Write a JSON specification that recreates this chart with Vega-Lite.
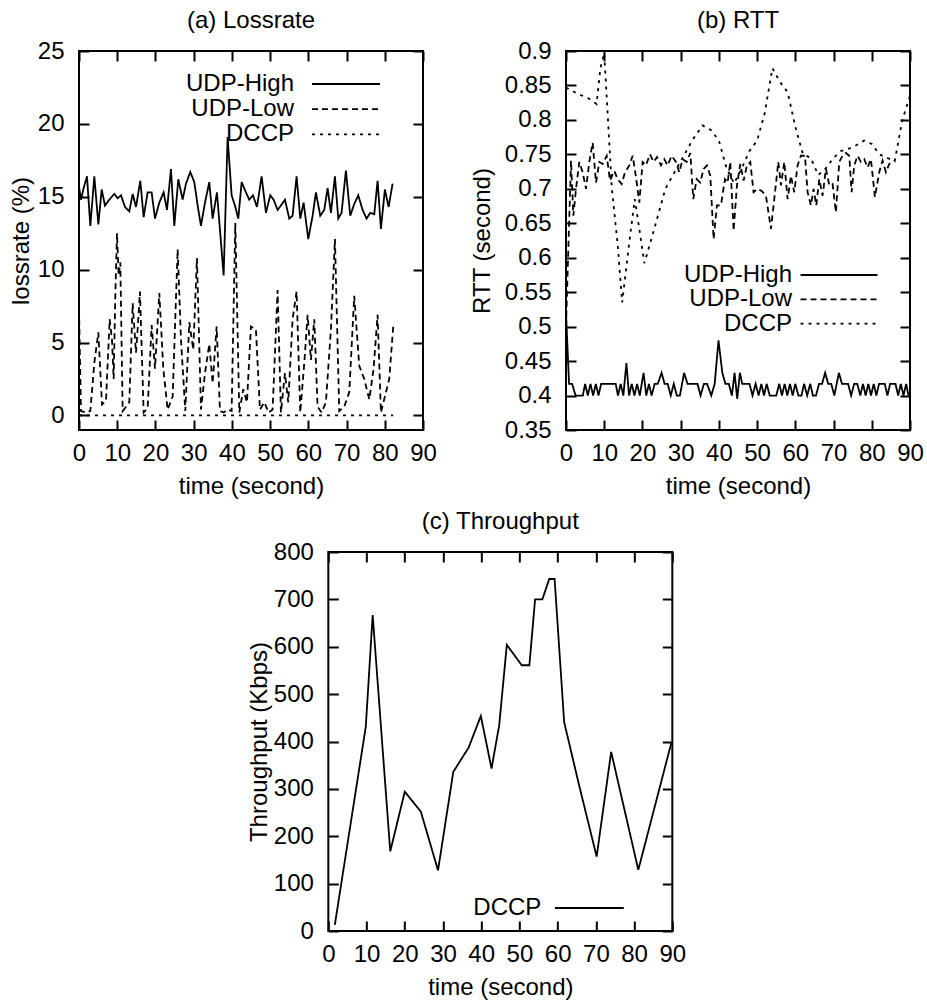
{
  "$schema": "https://vega.github.io/schema/vega-lite/v6.json",
  "background": "white",
  "padding": {"left": 8, "top": 8, "right": 5, "bottom": 5},
  "config": {
    "font": "Liberation Sans",
    "view": {"stroke": "black", "strokeWidth": 2},
    "axis": {
      "domain": false, "grid": false, "ticks": true, "tickSize": -10, "tickColor": "black", "tickWidth": 2,
      "labelFontSize": 24, "labelColor": "black", "labelFlush": false, "labelOverlap": false,
      "titleFontSize": 24, "titleFontWeight": "normal", "titleColor": "black"
    },
    "axisX": {"labelPadding": 21, "titlePadding": 9},
    "axisY": {"labelPadding": 25, "titlePadding": 4},
    "title": {"fontSize": 24, "fontWeight": "normal", "color": "black", "offset": 6, "frame": "group"},
    "legend": {
      "title": null, "orient": "none", "symbolType": "M-5,0H5", "symbolStrokeWidth": 1.8, "symbolStrokeColor": "black",
      "labelAlign": "right", "labelFontSize": 24, "labelColor": "black", "padding": 0, "labelLimit": 300
    }
  },
  "datasets": {
    "loss": [
      {"time":0,"series":"UDP-High","value":15.7},{"time":0.52,"series":"UDP-High","value":14.8},{"time":1.22,"series":"UDP-High","value":15.6},{"time":2.09,"series":"UDP-High","value":16.4},{"time":2.96,"series":"UDP-High","value":13.0},{"time":4.01,"series":"UDP-High","value":16.4},{"time":5.06,"series":"UDP-High","value":13.1},{"time":5.93,"series":"UDP-High","value":15.5},{"time":6.8,"series":"UDP-High","value":14.4},{"time":7.93,"series":"UDP-High","value":14.8},{"time":9.24,"series":"UDP-High","value":15.2},{"time":10.11,"series":"UDP-High","value":14.9},{"time":10.99,"series":"UDP-High","value":15.1},{"time":12.03,"series":"UDP-High","value":14.3},{"time":13.16,"series":"UDP-High","value":14.0},{"time":14.04,"series":"UDP-High","value":15.2},{"time":14.91,"series":"UDP-High","value":14.3},{"time":16.04,"series":"UDP-High","value":16.1},{"time":16.91,"series":"UDP-High","value":13.6},{"time":17.96,"series":"UDP-High","value":15.3},{"time":19.01,"series":"UDP-High","value":15.3},{"time":19.88,"series":"UDP-High","value":13.5},{"time":21.01,"series":"UDP-High","value":14.6},{"time":22.14,"series":"UDP-High","value":15.3},{"time":23.02,"series":"UDP-High","value":14.1},{"time":24.06,"series":"UDP-High","value":16.9},{"time":24.93,"series":"UDP-High","value":13.0},{"time":25.98,"series":"UDP-High","value":16.2},{"time":27.11,"series":"UDP-High","value":14.8},{"time":27.99,"series":"UDP-High","value":15.9},{"time":29.12,"series":"UDP-High","value":16.7},{"time":30.17,"series":"UDP-High","value":16.0},{"time":31.04,"series":"UDP-High","value":14.4},{"time":31.91,"series":"UDP-High","value":13.0},{"time":32.96,"series":"UDP-High","value":14.6},{"time":34.09,"series":"UDP-High","value":16.0},{"time":34.96,"series":"UDP-High","value":13.5},{"time":36.09,"series":"UDP-High","value":15.3},{"time":37.84,"series":"UDP-High","value":9.6},{"time":38.88,"series":"UDP-High","value":19.1},{"time":39.93,"series":"UDP-High","value":15.1},{"time":40.8,"series":"UDP-High","value":14.4},{"time":41.67,"series":"UDP-High","value":13.5},{"time":42.55,"series":"UDP-High","value":16.0},{"time":43.68,"series":"UDP-High","value":15.3},{"time":44.55,"series":"UDP-High","value":14.8},{"time":45.51,"series":"UDP-High","value":15.1},{"time":46.56,"series":"UDP-High","value":14.3},{"time":47.78,"series":"UDP-High","value":16.4},{"time":48.91,"series":"UDP-High","value":13.9},{"time":50.04,"series":"UDP-High","value":15.1},{"time":50.92,"series":"UDP-High","value":14.8},{"time":51.96,"series":"UDP-High","value":14.1},{"time":52.83,"series":"UDP-High","value":14.4},{"time":53.88,"series":"UDP-High","value":14.8},{"time":55.01,"series":"UDP-High","value":13.5},{"time":55.88,"series":"UDP-High","value":13.7},{"time":56.93,"series":"UDP-High","value":16.4},{"time":57.89,"series":"UDP-High","value":13.5},{"time":58.76,"series":"UDP-High","value":14.6},{"time":59.98,"series":"UDP-High","value":12.1},{"time":61.12,"series":"UDP-High","value":13.7},{"time":61.99,"series":"UDP-High","value":15.3},{"time":63.12,"series":"UDP-High","value":13.7},{"time":64.17,"series":"UDP-High","value":14.1},{"time":65.04,"series":"UDP-High","value":15.6},{"time":65.91,"series":"UDP-High","value":13.9},{"time":66.96,"series":"UDP-High","value":16.4},{"time":67.83,"series":"UDP-High","value":13.5},{"time":68.7,"series":"UDP-High","value":13.9},{"time":69.83,"series":"UDP-High","value":16.8},{"time":70.97,"series":"UDP-High","value":13.7},{"time":72.01,"series":"UDP-High","value":14.5},{"time":73.06,"series":"UDP-High","value":15.1},{"time":74.19,"series":"UDP-High","value":14.1},{"time":75.24,"series":"UDP-High","value":13.5},{"time":76.2,"series":"UDP-High","value":13.9},{"time":77.25,"series":"UDP-High","value":13.8},{"time":78.12,"series":"UDP-High","value":16.1},{"time":78.99,"series":"UDP-High","value":12.8},{"time":80.03,"series":"UDP-High","value":15.5},{"time":81.0,"series":"UDP-High","value":14.3},{"time":82.04,"series":"UDP-High","value":15.9},
      {"time":0,"series":"UDP-Low","value":7.3},{"time":0.52,"series":"UDP-Low","value":0.3},{"time":1.83,"series":"UDP-Low","value":0.2},{"time":2.96,"series":"UDP-Low","value":0.3},{"time":4.01,"series":"UDP-Low","value":3.6},{"time":5.06,"series":"UDP-Low","value":5.7},{"time":6.02,"series":"UDP-Low","value":0.75},{"time":7.06,"series":"UDP-Low","value":1.0},{"time":8.02,"series":"UDP-Low","value":6.6},{"time":8.63,"series":"UDP-Low","value":5.2},{"time":9.07,"series":"UDP-Low","value":2.5},{"time":9.5,"series":"UDP-Low","value":8.2},{"time":9.94,"series":"UDP-Low","value":12.5},{"time":10.37,"series":"UDP-Low","value":9.6},{"time":10.81,"series":"UDP-Low","value":10.5},{"time":11.42,"series":"UDP-Low","value":0.3},{"time":12.29,"series":"UDP-Low","value":0.6},{"time":13.16,"series":"UDP-Low","value":0.9},{"time":14.04,"series":"UDP-Low","value":7.7},{"time":14.91,"series":"UDP-Low","value":4.3},{"time":15.34,"series":"UDP-Low","value":5.9},{"time":15.95,"series":"UDP-Low","value":8.5},{"time":16.91,"series":"UDP-Low","value":0.2},{"time":17.96,"series":"UDP-Low","value":0.5},{"time":19.01,"series":"UDP-Low","value":6.2},{"time":19.88,"series":"UDP-Low","value":3.2},{"time":21.01,"series":"UDP-Low","value":8.4},{"time":22.06,"series":"UDP-Low","value":3.2},{"time":23.19,"series":"UDP-Low","value":0.4},{"time":24.5,"series":"UDP-Low","value":1.3},{"time":25.81,"series":"UDP-Low","value":11.4},{"time":26.68,"series":"UDP-Low","value":5.2},{"time":27.81,"series":"UDP-Low","value":0.3},{"time":28.86,"series":"UDP-Low","value":6.4},{"time":29.9,"series":"UDP-Low","value":4.5},{"time":30.86,"series":"UDP-Low","value":10.8},{"time":31.91,"series":"UDP-Low","value":0.4},{"time":32.96,"series":"UDP-Low","value":2.9},{"time":34.09,"series":"UDP-Low","value":4.9},{"time":34.96,"series":"UDP-Low","value":2.2},{"time":36.01,"series":"UDP-Low","value":6.1},{"time":36.88,"series":"UDP-Low","value":0.3},{"time":37.84,"series":"UDP-Low","value":0.2},{"time":38.88,"series":"UDP-Low","value":0.4},{"time":39.93,"series":"UDP-Low","value":0.3},{"time":40.89,"series":"UDP-Low","value":13.2},{"time":41.94,"series":"UDP-Low","value":0.2},{"time":42.98,"series":"UDP-Low","value":1.8},{"time":43.94,"series":"UDP-Low","value":0.9},{"time":44.99,"series":"UDP-Low","value":6.1},{"time":46.29,"series":"UDP-Low","value":5.9},{"time":47.34,"series":"UDP-Low","value":0.4},{"time":48.47,"series":"UDP-Low","value":0.9},{"time":49.61,"series":"UDP-Low","value":0.2},{"time":50.65,"series":"UDP-Low","value":0.4},{"time":51.96,"series":"UDP-Low","value":8.6},{"time":52.83,"series":"UDP-Low","value":0.2},{"time":53.88,"series":"UDP-Low","value":2.9},{"time":54.75,"series":"UDP-Low","value":0.9},{"time":55.88,"series":"UDP-Low","value":6.6},{"time":56.93,"series":"UDP-Low","value":8.5},{"time":57.89,"series":"UDP-Low","value":0.2},{"time":58.94,"series":"UDP-Low","value":3.6},{"time":59.81,"series":"UDP-Low","value":6.9},{"time":60.68,"series":"UDP-Low","value":3.8},{"time":61.55,"series":"UDP-Low","value":6.6},{"time":62.42,"series":"UDP-Low","value":0.6},{"time":63.47,"series":"UDP-Low","value":0.2},{"time":64.6,"series":"UDP-Low","value":0.9},{"time":65.91,"series":"UDP-Low","value":5.9},{"time":66.96,"series":"UDP-Low","value":12.1},{"time":68.09,"series":"UDP-Low","value":0.3},{"time":69.4,"series":"UDP-Low","value":0.6},{"time":70.71,"series":"UDP-Low","value":1.6},{"time":72.01,"series":"UDP-Low","value":8.2},{"time":73.32,"series":"UDP-Low","value":3.4},{"time":74.63,"series":"UDP-Low","value":2.5},{"time":75.94,"series":"UDP-Low","value":1.1},{"time":77.07,"series":"UDP-Low","value":3.2},{"time":78.12,"series":"UDP-Low","value":6.9},{"time":78.99,"series":"UDP-Low","value":0.2},{"time":80.03,"series":"UDP-Low","value":1.3},{"time":81.17,"series":"UDP-Low","value":2.5},{"time":82.21,"series":"UDP-Low","value":6.1},
      {"time":0,"series":"DCCP","value":0},{"time":10,"series":"DCCP","value":0},{"time":20,"series":"DCCP","value":0},{"time":30,"series":"DCCP","value":0},{"time":40,"series":"DCCP","value":0},{"time":50,"series":"DCCP","value":0},{"time":60,"series":"DCCP","value":0},{"time":70,"series":"DCCP","value":0},{"time":80,"series":"DCCP","value":0},{"time":82.2,"series":"DCCP","value":0}
    ],
    "rtt": [
      {"time":0,"series":"UDP-High","value":0.52},{"time":0.8,"series":"UDP-High","value":0.417},{"time":1.6,"series":"UDP-High","value":0.417},{"time":2.5,"series":"UDP-High","value":0.4},{"time":3.5,"series":"UDP-High","value":0.4},{"time":4.4,"series":"UDP-High","value":0.4},{"time":5.0,"series":"UDP-High","value":0.417},{"time":5.7,"series":"UDP-High","value":0.4},{"time":6.4,"series":"UDP-High","value":0.417},{"time":7.1,"series":"UDP-High","value":0.4},{"time":7.8,"series":"UDP-High","value":0.417},{"time":8.5,"series":"UDP-High","value":0.4},{"time":9.2,"series":"UDP-High","value":0.417},{"time":10.0,"series":"UDP-High","value":0.417},{"time":11.0,"series":"UDP-High","value":0.417},{"time":12.0,"series":"UDP-High","value":0.417},{"time":13.0,"series":"UDP-High","value":0.417},{"time":13.6,"series":"UDP-High","value":0.4},{"time":14.3,"series":"UDP-High","value":0.417},{"time":15.0,"series":"UDP-High","value":0.4},{"time":15.8,"series":"UDP-High","value":0.447},{"time":16.5,"series":"UDP-High","value":0.4},{"time":17.2,"series":"UDP-High","value":0.417},{"time":17.9,"series":"UDP-High","value":0.4},{"time":18.6,"series":"UDP-High","value":0.417},{"time":19.3,"series":"UDP-High","value":0.4},{"time":20.3,"series":"UDP-High","value":0.433},{"time":21.0,"series":"UDP-High","value":0.4},{"time":21.7,"series":"UDP-High","value":0.417},{"time":22.4,"series":"UDP-High","value":0.4},{"time":23.2,"series":"UDP-High","value":0.417},{"time":24.0,"series":"UDP-High","value":0.417},{"time":25.0,"series":"UDP-High","value":0.433},{"time":25.8,"series":"UDP-High","value":0.417},{"time":26.6,"series":"UDP-High","value":0.417},{"time":27.4,"series":"UDP-High","value":0.4},{"time":28.2,"series":"UDP-High","value":0.417},{"time":29.0,"series":"UDP-High","value":0.4},{"time":29.8,"series":"UDP-High","value":0.4},{"time":30.9,"series":"UDP-High","value":0.433},{"time":31.8,"series":"UDP-High","value":0.417},{"time":32.6,"series":"UDP-High","value":0.417},{"time":33.5,"series":"UDP-High","value":0.417},{"time":34.4,"series":"UDP-High","value":0.417},{"time":35.2,"series":"UDP-High","value":0.4},{"time":36.1,"series":"UDP-High","value":0.417},{"time":36.9,"series":"UDP-High","value":0.417},{"time":38.0,"series":"UDP-High","value":0.4},{"time":38.9,"series":"UDP-High","value":0.417},{"time":39.9,"series":"UDP-High","value":0.48},{"time":40.9,"series":"UDP-High","value":0.433},{"time":41.7,"series":"UDP-High","value":0.417},{"time":42.6,"series":"UDP-High","value":0.417},{"time":43.4,"series":"UDP-High","value":0.4},{"time":44.1,"series":"UDP-High","value":0.433},{"time":44.8,"series":"UDP-High","value":0.395},{"time":45.5,"series":"UDP-High","value":0.433},{"time":46.1,"series":"UDP-High","value":0.417},{"time":47.0,"series":"UDP-High","value":0.417},{"time":48.0,"series":"UDP-High","value":0.417},{"time":48.8,"series":"UDP-High","value":0.4},{"time":49.6,"series":"UDP-High","value":0.417},{"time":50.4,"series":"UDP-High","value":0.4},{"time":51.1,"series":"UDP-High","value":0.417},{"time":51.8,"series":"UDP-High","value":0.4},{"time":52.5,"series":"UDP-High","value":0.417},{"time":53.3,"series":"UDP-High","value":0.4},{"time":54.2,"series":"UDP-High","value":0.4},{"time":55.0,"series":"UDP-High","value":0.4},{"time":55.8,"series":"UDP-High","value":0.417},{"time":56.5,"series":"UDP-High","value":0.4},{"time":57.2,"series":"UDP-High","value":0.417},{"time":57.9,"series":"UDP-High","value":0.4},{"time":58.6,"series":"UDP-High","value":0.417},{"time":59.3,"series":"UDP-High","value":0.4},{"time":60.0,"series":"UDP-High","value":0.417},{"time":60.8,"series":"UDP-High","value":0.4},{"time":61.6,"series":"UDP-High","value":0.4},{"time":62.3,"series":"UDP-High","value":0.417},{"time":63.1,"series":"UDP-High","value":0.4},{"time":63.9,"series":"UDP-High","value":0.417},{"time":64.6,"series":"UDP-High","value":0.4},{"time":65.4,"series":"UDP-High","value":0.4},{"time":66.2,"series":"UDP-High","value":0.417},{"time":67.0,"series":"UDP-High","value":0.417},{"time":67.8,"series":"UDP-High","value":0.433},{"time":68.6,"series":"UDP-High","value":0.417},{"time":69.4,"series":"UDP-High","value":0.417},{"time":70.2,"series":"UDP-High","value":0.4},{"time":71.4,"series":"UDP-High","value":0.433},{"time":72.2,"series":"UDP-High","value":0.417},{"time":73.0,"series":"UDP-High","value":0.417},{"time":73.8,"series":"UDP-High","value":0.417},{"time":74.6,"series":"UDP-High","value":0.4},{"time":75.4,"series":"UDP-High","value":0.417},{"time":76.2,"series":"UDP-High","value":0.417},{"time":77.0,"series":"UDP-High","value":0.4},{"time":77.7,"series":"UDP-High","value":0.417},{"time":78.4,"series":"UDP-High","value":0.4},{"time":79.1,"series":"UDP-High","value":0.417},{"time":79.8,"series":"UDP-High","value":0.4},{"time":80.5,"series":"UDP-High","value":0.417},{"time":81.2,"series":"UDP-High","value":0.4},{"time":81.9,"series":"UDP-High","value":0.417},{"time":82.6,"series":"UDP-High","value":0.417},{"time":83.4,"series":"UDP-High","value":0.417},{"time":84.1,"series":"UDP-High","value":0.4},{"time":84.8,"series":"UDP-High","value":0.417},{"time":85.5,"series":"UDP-High","value":0.417},{"time":86.2,"series":"UDP-High","value":0.417},{"time":86.9,"series":"UDP-High","value":0.4},{"time":87.6,"series":"UDP-High","value":0.417},{"time":88.3,"series":"UDP-High","value":0.4},{"time":89.0,"series":"UDP-High","value":0.417},{"time":89.6,"series":"UDP-High","value":0.4},
      {"time":0,"series":"UDP-Low","value":0.5},{"time":1.31,"series":"UDP-Low","value":0.741},{"time":1.92,"series":"UDP-Low","value":0.661},{"time":2.62,"series":"UDP-Low","value":0.7},{"time":3.49,"series":"UDP-Low","value":0.739},{"time":4.36,"series":"UDP-Low","value":0.724},{"time":5.23,"series":"UDP-Low","value":0.7},{"time":6.1,"series":"UDP-Low","value":0.739},{"time":6.97,"series":"UDP-Low","value":0.767},{"time":7.85,"series":"UDP-Low","value":0.709},{"time":8.72,"series":"UDP-Low","value":0.739},{"time":9.59,"series":"UDP-Low","value":0.736},{"time":10.64,"series":"UDP-Low","value":0.748},{"time":11.51,"series":"UDP-Low","value":0.712},{"time":12.64,"series":"UDP-Low","value":0.726},{"time":13.51,"series":"UDP-Low","value":0.714},{"time":14.56,"series":"UDP-Low","value":0.707},{"time":15.43,"series":"UDP-Low","value":0.724},{"time":16.56,"series":"UDP-Low","value":0.734},{"time":17.44,"series":"UDP-Low","value":0.748},{"time":18.31,"series":"UDP-Low","value":0.717},{"time":19.18,"series":"UDP-Low","value":0.68},{"time":20.05,"series":"UDP-Low","value":0.739},{"time":20.92,"series":"UDP-Low","value":0.734},{"time":21.97,"series":"UDP-Low","value":0.75},{"time":22.93,"series":"UDP-Low","value":0.739},{"time":23.8,"series":"UDP-Low","value":0.746},{"time":24.85,"series":"UDP-Low","value":0.734},{"time":25.72,"series":"UDP-Low","value":0.743},{"time":26.59,"series":"UDP-Low","value":0.734},{"time":27.64,"series":"UDP-Low","value":0.748},{"time":28.77,"series":"UDP-Low","value":0.739},{"time":29.64,"series":"UDP-Low","value":0.724},{"time":30.51,"series":"UDP-Low","value":0.743},{"time":31.56,"series":"UDP-Low","value":0.739},{"time":32.52,"series":"UDP-Low","value":0.752},{"time":33.3,"series":"UDP-Low","value":0.685},{"time":34.18,"series":"UDP-Low","value":0.714},{"time":35.13,"series":"UDP-Low","value":0.709},{"time":36.01,"series":"UDP-Low","value":0.729},{"time":36.88,"series":"UDP-Low","value":0.734},{"time":37.75,"series":"UDP-Low","value":0.719},{"time":38.62,"series":"UDP-Low","value":0.627},{"time":39.49,"series":"UDP-Low","value":0.676},{"time":40.54,"series":"UDP-Low","value":0.676},{"time":41.59,"series":"UDP-Low","value":0.714},{"time":42.28,"series":"UDP-Low","value":0.709},{"time":42.98,"series":"UDP-Low","value":0.739},{"time":43.85,"series":"UDP-Low","value":0.639},{"time":44.73,"series":"UDP-Low","value":0.705},{"time":45.6,"series":"UDP-Low","value":0.736},{"time":46.47,"series":"UDP-Low","value":0.712},{"time":47.34,"series":"UDP-Low","value":0.734},{"time":48.21,"series":"UDP-Low","value":0.739},{"time":49.08,"series":"UDP-Low","value":0.695},{"time":50.13,"series":"UDP-Low","value":0.7},{"time":51.18,"series":"UDP-Low","value":0.697},{"time":52.31,"series":"UDP-Low","value":0.69},{"time":53.62,"series":"UDP-Low","value":0.642},{"time":54.49,"series":"UDP-Low","value":0.685},{"time":55.54,"series":"UDP-Low","value":0.739},{"time":56.23,"series":"UDP-Low","value":0.705},{"time":57.1,"series":"UDP-Low","value":0.739},{"time":57.98,"series":"UDP-Low","value":0.685},{"time":58.85,"series":"UDP-Low","value":0.719},{"time":59.72,"series":"UDP-Low","value":0.695},{"time":60.59,"series":"UDP-Low","value":0.734},{"time":61.46,"series":"UDP-Low","value":0.748},{"time":62.51,"series":"UDP-Low","value":0.748},{"time":63.21,"series":"UDP-Low","value":0.695},{"time":64.08,"series":"UDP-Low","value":0.676},{"time":64.78,"series":"UDP-Low","value":0.7},{"time":65.48,"series":"UDP-Low","value":0.676},{"time":66.26,"series":"UDP-Low","value":0.714},{"time":67.13,"series":"UDP-Low","value":0.69},{"time":68.0,"series":"UDP-Low","value":0.729},{"time":68.88,"series":"UDP-Low","value":0.705},{"time":69.75,"series":"UDP-Low","value":0.707},{"time":70.62,"series":"UDP-Low","value":0.666},{"time":71.49,"series":"UDP-Low","value":0.739},{"time":72.36,"series":"UDP-Low","value":0.748},{"time":73.23,"series":"UDP-Low","value":0.752},{"time":74.11,"series":"UDP-Low","value":0.748},{"time":74.72,"series":"UDP-Low","value":0.695},{"time":75.41,"series":"UDP-Low","value":0.734},{"time":76.29,"series":"UDP-Low","value":0.748},{"time":77.16,"series":"UDP-Low","value":0.739},{"time":78.03,"series":"UDP-Low","value":0.743},{"time":78.9,"series":"UDP-Low","value":0.731},{"time":79.77,"series":"UDP-Low","value":0.743},{"time":80.82,"series":"UDP-Low","value":0.688},{"time":81.95,"series":"UDP-Low","value":0.724},{"time":82.82,"series":"UDP-Low","value":0.741},{"time":83.7,"series":"UDP-Low","value":0.724},{"time":84.57,"series":"UDP-Low","value":0.736},{"time":85.7,"series":"UDP-Low","value":0.741},
      {"time":0,"series":"DCCP","value":0.847},{"time":3,"series":"DCCP","value":0.838},{"time":6,"series":"DCCP","value":0.831},{"time":8,"series":"DCCP","value":0.823},{"time":9,"series":"DCCP","value":0.875},{"time":10,"series":"DCCP","value":0.897},{"time":12,"series":"DCCP","value":0.7},{"time":13.5,"series":"DCCP","value":0.62},{"time":14.7,"series":"DCCP","value":0.535},{"time":16.5,"series":"DCCP","value":0.62},{"time":18,"series":"DCCP","value":0.685},{"time":19.5,"series":"DCCP","value":0.63},{"time":20.5,"series":"DCCP","value":0.592},{"time":23,"series":"DCCP","value":0.64},{"time":26,"series":"DCCP","value":0.7},{"time":30,"series":"DCCP","value":0.74},{"time":33,"series":"DCCP","value":0.77},{"time":35.7,"series":"DCCP","value":0.792},{"time":38,"series":"DCCP","value":0.785},{"time":40,"series":"DCCP","value":0.77},{"time":42,"series":"DCCP","value":0.73},{"time":44,"series":"DCCP","value":0.708},{"time":46,"series":"DCCP","value":0.73},{"time":48,"series":"DCCP","value":0.755},{"time":50,"series":"DCCP","value":0.77},{"time":52,"series":"DCCP","value":0.81},{"time":54,"series":"DCCP","value":0.875},{"time":56,"series":"DCCP","value":0.855},{"time":58,"series":"DCCP","value":0.84},{"time":60,"series":"DCCP","value":0.79},{"time":62,"series":"DCCP","value":0.75},{"time":64,"series":"DCCP","value":0.745},{"time":66,"series":"DCCP","value":0.72},{"time":68,"series":"DCCP","value":0.73},{"time":70,"series":"DCCP","value":0.745},{"time":72,"series":"DCCP","value":0.755},{"time":75,"series":"DCCP","value":0.76},{"time":78,"series":"DCCP","value":0.77},{"time":80,"series":"DCCP","value":0.765},{"time":82,"series":"DCCP","value":0.75},{"time":84,"series":"DCCP","value":0.745},{"time":86,"series":"DCCP","value":0.74},{"time":88,"series":"DCCP","value":0.8},{"time":90,"series":"DCCP","value":0.835}
    ],
    "tput": [
      {"time":1.7,"series":"DCCP","value":13},{"time":9.8,"series":"DCCP","value":431},{"time":11.6,"series":"DCCP","value":667},{"time":16.2,"series":"DCCP","value":168},{"time":20.0,"series":"DCCP","value":294},{"time":24.2,"series":"DCCP","value":252},{"time":28.7,"series":"DCCP","value":128},{"time":32.7,"series":"DCCP","value":336},{"time":36.7,"series":"DCCP","value":387},{"time":39.9,"series":"DCCP","value":454},{"time":42.7,"series":"DCCP","value":343},{"time":44.7,"series":"DCCP","value":434},{"time":46.7,"series":"DCCP","value":604},{"time":50.6,"series":"DCCP","value":561},{"time":52.6,"series":"DCCP","value":561},{"time":54.1,"series":"DCCP","value":700},{"time":56.0,"series":"DCCP","value":700},{"time":57.8,"series":"DCCP","value":743},{"time":59.2,"series":"DCCP","value":743},{"time":61.7,"series":"DCCP","value":441},{"time":65.6,"series":"DCCP","value":308},{"time":70.2,"series":"DCCP","value":157},{"time":74.0,"series":"DCCP","value":378},{"time":81.1,"series":"DCCP","value":129},{"time":89.8,"series":"DCCP","value":399}
    ]
  },
  "vconcat": [
    {
      "hconcat": [
        {
          "title": "(a) Lossrate",
          "width": 344, "height": 379,
          "data": {"name": "loss"},
          "layer": [
            {
              "mark": {"type": "line", "strokeWidth": 1.8, "color": "black", "clip": true},
              "encoding": {
                "x": {"field": "time", "type": "quantitative", "scale": {"domain": [0, 90], "nice": false, "zero": false},
                      "axis": {"orient": "bottom", "title": "time (second)", "values": [0,10,20,30,40,50,60,70,80,90]}},
                "y": {"field": "value", "type": "quantitative", "scale": {"domain": [-1, 25], "nice": false, "zero": false},
                      "axis": {"orient": "left", "title": "lossrate (%)", "titlePadding": 4, "values": [0,5,10,15,20,25]}},
                "strokeDash": {"field": "series", "type": "nominal",
                      "scale": {"domain": ["UDP-High", "UDP-Low", "DCCP"], "range": [[1, 0], [6, 4], [3, 5]]},
                      "legend": {"legendX": 255, "legendY": 21, "symbolSize": 185, "labelOffset": -64, "rowPadding": 1.2}}
              }
            },
            {
              "mark": {"type": "line", "opacity": 0},
              "encoding": {
                "x": {"field": "time", "type": "quantitative", "scale": {"domain": [0, 90], "nice": false, "zero": false},
                      "axis": {"orient": "top", "title": null, "labels": false, "values": [0,10,20,30,40,50,60,70,80,90]}},
                "y": {"field": "value", "type": "quantitative", "scale": {"domain": [-1, 25], "nice": false, "zero": false},
                      "axis": {"orient": "right", "title": null, "labels": false, "values": [0,5,10,15,20,25]}},
                "detail": {"field": "series", "type": "nominal"}
              }
            }
          ],
          "resolve": {"axis": {"x": "independent", "y": "independent"}}
        },
        {
          "title": "(b) RTT",
          "width": 344, "height": 379,
          "data": {"name": "rtt"},
          "layer": [
            {
              "mark": {"type": "line", "strokeWidth": 1.8, "color": "black", "clip": true},
              "encoding": {
                "x": {"field": "time", "type": "quantitative", "scale": {"domain": [0, 90], "nice": false, "zero": false},
                      "axis": {"orient": "bottom", "title": "time (second)", "values": [0,10,20,30,40,50,60,70,80,90]}},
                "y": {"field": "value", "type": "quantitative", "scale": {"domain": [0.35, 0.9], "nice": false, "zero": false},
                      "axis": {"orient": "left", "title": "RTT (second)", "titlePadding": 10, "format": ".2~f", "values": [0.35,0.4,0.45,0.5,0.55,0.6,0.65,0.7,0.75,0.8,0.85,0.9]}},
                "strokeDash": {"field": "series", "type": "nominal",
                      "scale": {"domain": ["UDP-High", "UDP-Low", "DCCP"], "range": [[1, 0], [6, 4], [3, 5]]},
                      "legend": {"legendX": 261, "legendY": 212, "symbolSize": 237, "labelOffset": -59, "rowPadding": 0.3}}
              }
            },
            {
              "mark": {"type": "line", "opacity": 0},
              "encoding": {
                "x": {"field": "time", "type": "quantitative", "scale": {"domain": [0, 90], "nice": false, "zero": false},
                      "axis": {"orient": "top", "title": null, "labels": false, "values": [0,10,20,30,40,50,60,70,80,90]}},
                "y": {"field": "value", "type": "quantitative", "scale": {"domain": [0.35, 0.9], "nice": false, "zero": false},
                      "axis": {"orient": "right", "title": " ", "titlePadding": 0, "labels": false, "values": [0.35,0.4,0.45,0.5,0.55,0.6,0.65,0.7,0.75,0.8,0.85,0.9]}},
                "detail": {"field": "series", "type": "nominal"}
              }
            }
          ],
          "resolve": {"axis": {"x": "independent", "y": "independent"}}
        }
      ],
      "spacing": 143,
      "bounds": "flush",
      "resolve": {"scale": {"strokeDash": "independent"}, "legend": {"strokeDash": "independent"}}
    },
    {
      "title": "(c) Throughput",
      "width": 344, "height": 379,
      "data": {"name": "tput"},
      "layer": [
        {
          "mark": {"type": "line", "strokeWidth": 1.8, "color": "black", "clip": true},
          "encoding": {
            "x": {"field": "time", "type": "quantitative", "scale": {"domain": [0, 90], "nice": false, "zero": false},
                  "axis": {"orient": "bottom", "title": "time (second)", "values": [0,10,20,30,40,50,60,70,80,90]}},
            "y": {"field": "value", "type": "quantitative", "scale": {"domain": [0, 800], "nice": false},
                  "axis": {"orient": "left", "title": "Throughput (Kbps)", "titlePadding": 2, "values": [0,100,200,300,400,500,600,700,800]}},
            "strokeDash": {"field": "series", "type": "nominal",
                  "scale": {"domain": ["DCCP"], "range": [[1, 0]]},
                  "legend": {"legendX": 249, "legendY": 344, "symbolSize": 190, "labelOffset": -60}}
          }
        },
        {
          "mark": {"type": "line", "opacity": 0},
          "encoding": {
            "x": {"field": "time", "type": "quantitative", "scale": {"domain": [0, 90], "nice": false, "zero": false},
                  "axis": {"orient": "top", "title": null, "labels": false, "values": [0,10,20,30,40,50,60,70,80,90]}},
            "y": {"field": "value", "type": "quantitative", "scale": {"domain": [0, 800], "nice": false},
                  "axis": {"orient": "right", "title": null, "labels": false, "values": [0,100,200,300,400,500,600,700,800]}}
          }
        }
      ],
      "resolve": {"axis": {"x": "independent", "y": "independent"}}
    }
  ],
  "spacing": 10,
  "center": true,
  "resolve": {"scale": {"strokeDash": "independent"}, "legend": {"strokeDash": "independent"}}
}
